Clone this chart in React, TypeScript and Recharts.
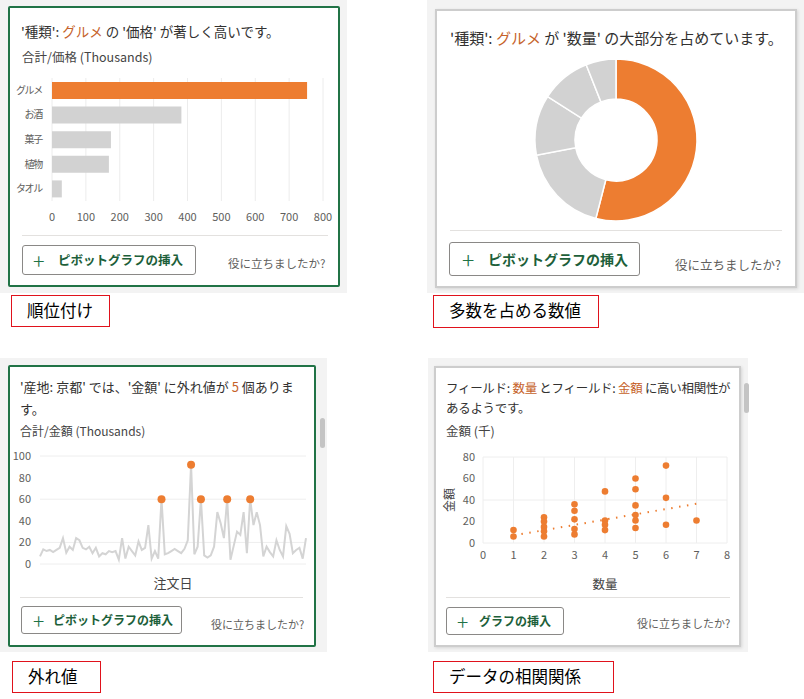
import React from "react";
import {
	BarChart,
	Bar,
	Cell,
	XAxis,
	YAxis,
	CartesianGrid,
	PieChart,
	Pie,
	LineChart,
	Line,
	ScatterChart,
	Scatter,
} from "recharts";

// ranking card
const kinds = ["グルメ", "お酒", "菓子", "植物", "タオル"];
const priceTotals = [753, 382, 174, 168, 29];
const priceTicks = [0, 100, 200, 300, 400, 500, 600, 700, 800];

// majority card
const quantityShares = [54, 18, 12, 10, 6];

// outlier card
const orderAmounts = [
	7, 13.5, 12, 13, 11, 13, 15, 24, 10.5, 16, 13, 24, 22, 15, 13.5, 16, 10, 15,
	7, 10, 9, 12, 11, 12, 4, 24, 5, 16, 12, 8, 21, 13, 15, 36, 5, 12, 5, 60, 9,
	10, 12, 14, 12, 10, 14, 22, 92, 9, 16, 60, 8, 6, 8, 16, 48, 38, 24, 60, 4,
	17, 30, 27, 48, 10, 60, 36, 48, 36, 7, 16, 11, 7, 22, 13, 7, 35, 28, 10, 13,
	15, 5, 24,
];
const outlierIdx = [37, 46, 49, 57, 64];
const amountTicks = [0, 20, 40, 60, 80, 100];

// correlation card
const qtyValues = [
	1, 1, 2, 2, 2, 2, 2, 3, 3, 3, 3, 3, 4, 4, 4, 4, 5, 5, 5, 5, 5, 5, 6, 6, 6, 7,
];
const amtValues = [
	12, 6, 24, 20, 15, 11, 6, 36, 30, 22, 13, 8, 48, 21, 17, 12, 60, 50, 35, 26,
	21, 14, 72, 42, 17, 21,
];
const trendQty = [1, 7];
const trendAmt = [7, 36.5];
const qtyTicks = [0, 1, 2, 3, 4, 5, 6, 7, 8];
const amtTicks = [0, 20, 40, 60, 80];

const ORANGE = "#ed7d31";
const HILITE = "#c6622a";
const GREY_MARK = "#d2d2d2";
const GREEN = "#217346";
const TICK = { fontSize: 11, fill: "#605e5c" };

const barRows = kinds.map((name, i) => ({ name, value: priceTotals[i] }));
const pieRows = kinds.map((name, i) => ({ name, value: quantityShares[i] }));
const lineRows = orderAmounts.map((amount, i) => ({
	amount,
	outlier: outlierIdx.includes(i) ? amount : null,
}));
const scatterRows = qtyValues.map((qty, i) => ({ qty, amt: amtValues[i] }));
const trendRows = trendQty.map((qty, i) => ({ qty, amt: trendAmt[i] }));

function Txt(props: {
	x: number;
	cy: number;
	size: number;
	lh?: number;
	color?: string;
	weight?: number;
	children: React.ReactNode;
}) {
	const lh = props.lh ?? Math.round(props.size * 1.5);
	return (
		<div
			style={{
				position: "absolute",
				left: props.x,
				top: props.cy - lh / 2,
				fontSize: props.size,
				lineHeight: `${lh}px`,
				color: props.color ?? "#323130",
				fontWeight: props.weight ?? 400,
				whiteSpace: "nowrap",
			}}
		>
			{props.children}
		</div>
	);
}

function Box(props: {
	x: number;
	y: number;
	w: number;
	h: number;
	style?: React.CSSProperties;
	children?: React.ReactNode;
}) {
	return (
		<div
			style={{
				position: "absolute",
				left: props.x,
				top: props.y,
				width: props.w,
				height: props.h,
				boxSizing: "border-box",
				...props.style,
			}}
		>
			{props.children}
		</div>
	);
}

function InsertButton(props: {
	x: number;
	y: number;
	w: number;
	h: number;
	plusOff: number;
	textOff: number;
	size: number;
	label: string;
}) {
	return (
		<Box
			x={props.x}
			y={props.y}
			w={props.w}
			h={props.h}
			style={{ border: "1px solid #8a8886", borderRadius: 3, background: "#fff" }}
		>
			<div
				style={{
					position: "absolute",
					left: props.plusOff - 1,
					top: 0,
					lineHeight: `${props.h - 2}px`,
					fontSize: props.size + 9,
					fontWeight: 300,
					color: GREEN,
				}}
			>
				+
			</div>
			<div
				style={{
					position: "absolute",
					left: props.textOff - 1,
					top: 0,
					lineHeight: `${props.h - 2}px`,
					fontSize: props.size,
					fontWeight: 700,
					color: "#1d5f3a",
					whiteSpace: "nowrap",
				}}
			>
				{props.label}
			</div>
		</Box>
	);
}

function Caption(props: { x: number; y: number; w: number; h: number; text: string }) {
	return (
		<Box
			x={props.x}
			y={props.y}
			w={props.w}
			h={props.h}
			style={{ border: "1.5px solid #e0121c", background: "#fff" }}
		>
			<div
				style={{
					position: "absolute",
					left: 15,
					top: 0,
					lineHeight: `${props.h - 4}px`,
					fontSize: 16.5,
					color: "#000",
					whiteSpace: "nowrap",
				}}
			>
				{props.text}
			</div>
		</Box>
	);
}

// eslint-disable-next-line @typescript-eslint/no-explicit-any
function AmountAxisTitle(props: any) {
	const vb = props?.viewBox ?? { x: 0, y: 10, width: 47, height: 86 };
	const x = vb.x + 12;
	const y = vb.y + vb.height / 2;
	return (
		<text
			x={x}
			y={y}
			transform={`rotate(-90 ${x} ${y})`}
			textAnchor="middle"
			dominantBaseline="central"
			fontSize={12}
			fill="#444"
		>
			金額
		</text>
	);
}

// eslint-disable-next-line @typescript-eslint/no-explicit-any
function ScatterDot(props: any) {
	return <circle cx={props.cx} cy={props.cy} r={3.3} fill={ORANGE} />;
}

function EmptyShape() {
	return <g />;
}

export default function App() {
	const cardBg = "#f3f3f3";
	const sep = "#e3e1df";
	return (
		<div
			style={{
				position: "relative",
				width: 804,
				height: 699,
				background: "#fff",
				overflow: "hidden",
				fontFamily: "'Noto Sans CJK JP', 'Noto Sans', sans-serif",
			}}
		>
			<style>{"body{margin:0}"}</style>

			{/* ranking */}
			<Box x={0} y={0} w={347} h={293} style={{ background: cardBg }} />
			<Box
				x={8}
				y={6}
				w={332}
				h={281}
				style={{ border: `2px solid ${GREEN}`, background: "#fff", borderRadius: 2 }}
			/>
			<Txt x={21} cy={31} size={13.5}>
				'種類': <span style={{ color: HILITE }}>グルメ</span> の '価格' が著しく高いです。
			</Txt>
			<Txt x={22} cy={56} size={12.5} color="#444">
				合計/価格 (Thousands)
			</Txt>
			<div style={{ position: "absolute", left: 10, top: 72 }}>
				<BarChart
					width={330}
					height={159}
					data={barRows}
					layout="vertical"
					margin={{ top: 6, right: 17, bottom: 0, left: 0 }}
					barSize={17}
				>
					<CartesianGrid horizontal={false} stroke="#ececec" />
					<XAxis
						type="number"
						domain={[0, 800]}
						ticks={priceTicks}
						axisLine={false}
						tickLine={false}
						tick={TICK}
						tickMargin={6}
						height={30}
					/>
					<YAxis
						type="category"
						dataKey="name"
						width={42}
						axisLine={false}
						tickLine={false}
						tickMargin={4}
						tick={{ fontSize: 10, fill: "#605e5c", letterSpacing: -1.3 }}
					/>
					<Bar dataKey="value" isAnimationActive={false}>
						{barRows.map((r, i) => (
							<Cell key={r.name} fill={i === 0 ? ORANGE : GREY_MARK} />
						))}
					</Bar>
				</BarChart>
			</div>
			<Box x={22} y={235} w={306} h={1} style={{ background: sep }} />
			<InsertButton x={22} y={245} w={174} h={30} plusOff={11} textOff={36} size={12.5} label="ピボットグラフの挿入" />
			<Txt x={228} cy={263} size={11.5} color="#605e5c">
				役に立ちましたか?
			</Txt>
			<Caption x={11} y={295} w={99} h={32} text="順位付け" />

			{/* majority */}
			<Box x={427} y={0} w={377} h={293} style={{ background: cardBg }} />
			<Box
				x={435}
				y={9}
				w={362}
				h={279}
				style={{
					border: "2px solid #cdcdcd",
					background: "#fff",
					boxShadow: "1px 1px 3px rgba(0,0,0,0.12)",
				}}
			/>
			<Txt x={450} cy={37} size={15}>
				'種類': <span style={{ color: HILITE }}>グルメ</span> が '数量' の大部分を占めています。
			</Txt>
			<div style={{ position: "absolute", left: 520, top: 44 }}>
				<PieChart width={192} height={192}>
					<Pie
						data={pieRows}
						dataKey="value"
						nameKey="name"
						cx="50%"
						cy="50%"
						innerRadius={41}
						outerRadius={81}
						startAngle={90}
						endAngle={-270}
						stroke="#fff"
						strokeWidth={1.5}
						isAnimationActive={false}
					>
						{pieRows.map((r, i) => (
							<Cell key={r.name} fill={i === 0 ? ORANGE : GREY_MARK} />
						))}
					</Pie>
				</PieChart>
			</div>
			<Box x={450} y={230} w={332} h={1} style={{ background: sep }} />
			<InsertButton x={449} y={242} w={191} h={34} plusOff={13} textOff={39} size={14} label="ピボットグラフの挿入" />
			<Txt x={675} cy={264} size={12.5} color="#605e5c">
				役に立ちましたか?
			</Txt>
			<Caption x={433} y={295} w={166} h={33} text="多数を占める数値" />

			{/* outliers */}
			<Box x={0} y={358} w={327} h={294} style={{ background: cardBg }} />
			<Box
				x={8}
				y={365}
				w={308}
				h={282}
				style={{ border: `2px solid ${GREEN}`, background: "#fff", borderRadius: 2 }}
			/>
			<Box x={320} y={418} w={5} h={30} style={{ background: "#c4c4c4", borderRadius: 3 }} />
			<div
				style={{
					position: "absolute",
					left: 20,
					top: 376,
					fontSize: 13,
					lineHeight: "22px",
					color: "#323130",
					whiteSpace: "nowrap",
				}}
			>
				'産地: 京都' では、'金額' に外れ値が <span style={{ color: HILITE }}>5</span> 個ありま
				<br />
				す。
			</div>
			<Txt x={20} cy={431} size={12} color="#444">
				合計/金額 (Thousands)
			</Txt>
			<div style={{ position: "absolute", left: 10, top: 446 }}>
				<LineChart
					width={300}
					height={148}
					data={lineRows}
					margin={{ top: 10, right: 4, bottom: 6, left: 0 }}
				>
					<CartesianGrid vertical={false} stroke="#eeeeee" />
					<XAxis
						tick={false}
						axisLine={false}
						tickLine={false}
						height={24}
						label={{ value: "注文日", position: "insideBottom", offset: 0, fontSize: 13, fill: "#444" }}
					/>
					<YAxis
						domain={[0, 100]}
						ticks={amountTicks}
						width={30}
						axisLine={false}
						tickLine={false}
						tickMargin={3}
						tick={TICK}
					/>
					<Line
						type="linear"
						dataKey="amount"
						stroke="#d4d4d4"
						strokeWidth={2}
						dot={false}
						isAnimationActive={false}
					/>
					<Line
						type="linear"
						dataKey="outlier"
						stroke="none"
						dot={{ r: 4, fill: ORANGE, stroke: "none" }}
						activeDot={false}
						isAnimationActive={false}
					/>
				</LineChart>
			</div>
			<Box x={20} y={597} w={283} h={1} style={{ background: sep }} />
			<InsertButton x={21} y={606} w={161} h={28} plusOff={12} textOff={32} size={12} label="ピボットグラフの挿入" />
			<Txt x={211} cy={624} size={11} color="#605e5c">
				役に立ちましたか?
			</Txt>
			<Caption x={12} y={661} w={89} h={32} text="外れ値" />

			{/* correlation */}
			<Box x={428} y={358} w={320} h={294} style={{ background: cardBg }} />
			<Box
				x={434}
				y={366}
				w={307}
				h={281}
				style={{
					border: "2px solid #cdcdcd",
					background: "#fff",
					boxShadow: "1px 1px 3px rgba(0,0,0,0.12)",
				}}
			/>
			<Box x={744} y={383} w={5} h={30} style={{ background: "#c4c4c4", borderRadius: 3 }} />
			<div
				style={{
					position: "absolute",
					left: 446,
					top: 378,
					fontSize: 12.5,
					letterSpacing: "-0.3px",
					lineHeight: "19.5px",
					color: "#323130",
					whiteSpace: "nowrap",
				}}
			>
				フィールド: <span style={{ color: HILITE }}>数量</span> とフィールド:{" "}
				<span style={{ color: HILITE }}>金額</span> に高い相関性が
				<br />
				あるようです。
			</div>
			<Txt x={446} cy={430} size={12.5} color="#444">
				金額 (千)
			</Txt>
			<div style={{ position: "absolute", left: 436, top: 447 }}>
				<ScatterChart width={301} height={148} margin={{ top: 10, right: 10, bottom: 6, left: 0 }}>
					<CartesianGrid stroke="#eeeeee" />
					<XAxis
						type="number"
						dataKey="qty"
						domain={[0, 8]}
						ticks={qtyTicks}
						axisLine={false}
						tickLine={false}
						tick={TICK}
						height={46}
						label={{ value: "数量", position: "insideBottom", offset: 0, fontSize: 12.5, fill: "#444" }}
					/>
					<YAxis
						type="number"
						dataKey="amt"
						domain={[0, 80]}
						ticks={amtTicks}
						width={47}
						axisLine={false}
						tickLine={false}
						tick={TICK}
						label={AmountAxisTitle}
					/>
					<Scatter data={scatterRows} shape={ScatterDot} isAnimationActive={false} />
					<Scatter
						data={trendRows}
						shape={EmptyShape}
						line={{ stroke: ORANGE, strokeWidth: 2, strokeDasharray: "1.5 6.5" }}
						isAnimationActive={false}
					/>
				</ScatterChart>
			</div>
			<Box x={446} y={597} w={284} h={1} style={{ background: sep }} />
			<InsertButton x={446} y={607} w={118} h={28} plusOff={11} textOff={33} size={12} label="グラフの挿入" />
			<Txt x={637} cy={623} size={11} color="#605e5c">
				役に立ちましたか?
			</Txt>
			<Caption x={433} y={661} w={181} h={32} text="データの相関関係" />
		</div>
	);
}
